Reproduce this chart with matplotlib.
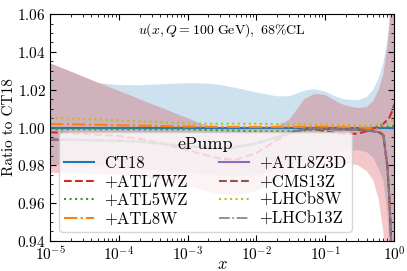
import numpy as np
import matplotlib
matplotlib.use("Agg")
import matplotlib.pyplot as plt
from matplotlib.ticker import AutoMinorLocator, LogLocator

plt.rcParams['font.family'] = 'serif'
plt.rcParams['font.serif'] = ['cmr10']
plt.rcParams['mathtext.fontset'] = 'cm'
plt.rcParams['axes.formatter.use_mathtext'] = True
plt.rcParams['axes.unicode_minus'] = False

# x grid (knots)
x = [1e-5, 2e-5, 5e-5, 1e-4, 2e-4, 5e-4, 1e-3, 2e-3, 3e-3, 5e-3, 1e-2, 2e-2,
     3e-2, 5e-2, 7e-2, 0.1, 0.15, 0.2, 0.3, 0.4, 0.5, 0.6, 0.7, 0.8, 0.85,
     0.9, 0.95, 1.0]

# CT18 error band
ct18_up = [1.034, 1.0296, 1.0235, 1.0225, 1.0223, 1.023, 1.0235, 1.0232, 1.0225,
           1.021, 1.0185, 1.0165, 1.0165, 1.0195, 1.0203, 1.019, 1.016, 1.0148,
           1.0145, 1.016, 1.020, 1.026, 1.034, 1.046, 1.055, 1.07, 1.10, 1.15]
ct18_lo = [0.9805, 0.980, 0.9795, 0.979, 0.978, 0.977, 0.976, 0.975, 0.9745,
           0.974, 0.975, 0.978, 0.9805, 0.9825, 0.983, 0.9845, 0.9865, 0.9875,
           0.988, 0.987, 0.984, 0.978, 0.972, 0.955, 0.94, 0.92, 0.88, 0.84]

# updated (ePump) error band
upd_up = [1.034, 1.0296, 1.0238, 1.0194, 1.015, 1.0093, 1.0049, 1.0005, 1.0002,
          1.0, 1.0, 1.001, 1.004, 1.015, 1.0178, 1.0172, 1.0135, 1.0115, 1.0103,
          1.0108, 1.014, 1.020, 1.028, 1.042, 1.052, 1.062, 1.09, 1.13]
upd_lo = [0.976, 0.9758, 0.9752, 0.975, 0.974, 0.9715, 0.969, 0.966, 0.9648,
          0.964, 0.9665, 0.972, 0.9755, 0.979, 0.9795, 0.9795, 0.980, 0.981,
          0.980, 0.977, 0.972, 0.962, 0.945, 0.92, 0.90, 0.88, 0.85, 0.80]

# central ratios
ct18 = [1.0] * len(x)
atl7wz = [0.9975, 0.997, 0.9962, 0.9955, 0.994, 0.991, 0.988, 0.985, 0.9835,
          0.983, 0.9865, 0.9935, 0.997, 0.999, 0.9992, 0.998, 0.997, 0.9965,
          0.9968, 0.998, 0.9995, 1.0005, 1.002, 1.004, 1.005, 1.007, 1.009, 1.012]
atl5wz = [0.9991, 0.9991, 0.9991, 0.9991, 0.999, 0.999, 0.999, 0.9987, 0.9985,
          0.9983, 0.998, 0.998, 0.998, 0.9985, 0.9988, 0.999, 0.9992, 0.9993,
          0.9995, 0.9997, 0.9999, 1.0, 1.0002, 1.0004, 1.0005, 1.0006, 1.0008, 1.001]
atl8w = [1.0018, 1.0017, 1.0015, 1.0012, 1.001, 1.0007, 1.0005, 1.0004, 1.0003,
         1.0003, 1.0002, 1.0002, 1.0002, 1.0003, 1.0003, 1.0003, 1.0002, 1.0001,
         1.0, 0.9998, 0.9995, 0.999, 0.996, 0.978, 0.962, 0.94, 0.89, 0.80]
atl8z3d = [0.9935, 0.9935, 0.9932, 0.993, 0.9925, 0.991, 0.990, 0.9892, 0.989,
           0.9895, 0.9915, 0.995, 0.997, 0.9992, 0.9995, 0.9993, 0.999, 0.999,
           0.9988, 0.9985, 0.998, 0.9975, 0.996, 0.98, 0.965, 0.945, 0.90, 0.80]
cms13z = [0.9936, 0.9935, 0.9933, 0.9931, 0.9926, 0.9912, 0.9902, 0.9893, 0.9891,
          0.9896, 0.9916, 0.995, 0.997, 0.9992, 0.9995, 0.9993, 0.999, 0.999,
          0.9988, 0.9985, 0.998, 0.9975, 0.996, 0.98, 0.965, 0.945, 0.90, 0.80]
lhcb8w = [1.0053, 1.0048, 1.0043, 1.0038, 1.0033, 1.0027, 1.0022, 1.002, 1.002,
          1.002, 1.002, 1.0018, 1.0017, 1.0016, 1.0015, 1.0015, 1.0014, 1.0013,
          1.0012, 1.0012, 1.0013, 1.0015, 1.0017, 1.002, 1.0023, 1.0027, 1.0033, 1.004]
lhcb13z = [0.9937, 0.9936, 0.9934, 0.9932, 0.9927, 0.9913, 0.9903, 0.9895, 0.9893,
           0.9898, 0.9918, 0.9952, 0.9972, 0.9993, 0.9996, 0.9994, 0.9991, 0.999,
           0.9989, 0.9986, 0.9981, 0.9976, 0.9962, 0.981, 0.966, 0.946, 0.90, 0.80]

fig = plt.figure(figsize=(4.07, 2.71), dpi=100)
ax = fig.add_axes([0.123, 0.111, 0.845, 0.837])

ax.fill_between(x, ct18_lo, ct18_up, color='#1f77b4', alpha=0.22, lw=0)
ax.fill_between(x, upd_lo, upd_up, color='#d62728', alpha=0.25, lw=0)

ax.plot(x, ct18, color='#1f77b4', ls='-', lw=1.5, label='CT18')
ax.plot(x, atl7wz, color='#d62728', ls='--', lw=1.5, label='+ATL7WZ')
ax.plot(x, atl5wz, color='#2ca02c', ls=':', lw=1.5, label='+ATL5WZ')
ax.plot(x, atl8w, color='#ff7f0e', ls='-.', lw=1.5, label='+ATL8W')
ax.plot(x, atl8z3d, color='#9467bd', ls='-', lw=1.5, label='+ATL8Z3D')
ax.plot(x, cms13z, color='#8c564b', ls='--', lw=1.5, label='+CMS13Z')
ax.plot(x, lhcb8w, color='#bcbd22', ls=':', lw=1.5, label='+LHCb8W')
ax.plot(x, lhcb13z, color='#7f7f7f', ls='-.', lw=1.2, label='+LHCb13Z')

ax.set_xscale('log')
ax.set_xlim(1e-5, 1)
ax.set_ylim(0.94, 1.06)
ax.set_yticks([0.94, 0.96, 0.98, 1.00, 1.02, 1.04, 1.06])
ax.yaxis.set_minor_locator(AutoMinorLocator(4))
ax.xaxis.set_major_locator(LogLocator(base=10, numticks=10))
ax.xaxis.set_minor_locator(LogLocator(base=10, subs=np.arange(2, 10), numticks=20))
ax.tick_params(which='both', direction='in', top=True, right=True, labelsize=11)
ax.tick_params(which='major', length=4, pad=3)
ax.tick_params(which='minor', length=2)

ax.set_xlabel(r'$x$', fontsize=12)
ax.xaxis.set_label_coords(0.5, -0.068)
ax.set_ylabel('Ratio to CT18', fontsize=11)
ax.yaxis.set_label_coords(-0.098, 0.5)
ax.text(0.5, 0.93, r'$u(x, Q = 100\ \mathrm{GeV}),\ 68\%\mathrm{CL}$',
        transform=ax.transAxes, ha='center', va='center', fontsize=10)

ax.legend(ncol=2, loc='lower left', title='ePump', fontsize=12,
          title_fontsize=13, columnspacing=1.9, handlelength=1.8,
          handletextpad=0.6, labelspacing=0.2, borderpad=0.3,
          borderaxespad=0.55, framealpha=0.8)

fig.savefig('out.png', dpi=100)
